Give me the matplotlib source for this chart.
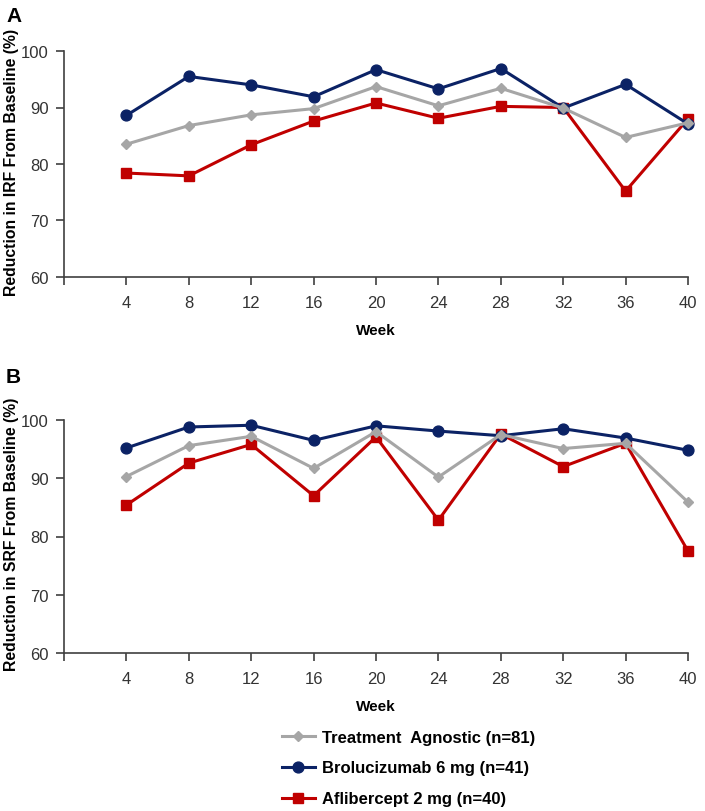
import matplotlib
matplotlib.use("Agg")
import matplotlib.pyplot as plt
from matplotlib.lines import Line2D

plt.rcParams['font.family'] = ['Liberation Sans', 'DejaVu Sans']

weeks = [4, 8, 12, 16, 20, 24, 28, 32, 36, 40]

irf_agnostic = [83.5, 86.8, 88.7, 89.8, 93.7, 90.3, 93.4, 89.9, 84.7, 87.3]
irf_brolucizumab = [88.6, 95.5, 94.0, 91.9, 96.7, 93.3, 96.9, 89.9, 94.1, 87.1]
irf_aflibercept = [78.4, 77.9, 83.4, 87.6, 90.8, 88.1, 90.2, 90.0, 75.2, 88.0]

srf_agnostic = [90.3, 95.6, 97.2, 91.7, 98.0, 90.2, 97.5, 95.1, 96.0, 85.9]
srf_brolucizumab = [95.2, 98.8, 99.1, 96.5, 99.0, 98.1, 97.3, 98.5, 96.9, 94.8]
srf_aflibercept = [85.4, 92.6, 95.8, 87.0, 97.1, 82.8, 97.6, 92.0, 96.0, 77.5]

labels = ["Treatment  Agnostic (n=81)", "Brolucizumab 6 mg (n=41)", "Aflibercept 2 mg (n=40)"]
yticks = [60, 70, 80, 90, 100]

GRAY = "#A6A6A6"
NAVY = "#0B2265"
RED = "#C00000"
styles = [
    dict(color=GRAY, marker="D", markersize=5.5, lw=2.2, zorder=4),
    dict(color=NAVY, marker="o", markersize=7.8, lw=2.2, zorder=3),
    dict(color=RED, marker="s", markersize=7.5, lw=2.2, zorder=2),
]

fig = plt.figure(figsize=(7.05, 8.12), dpi=100)
axA = fig.add_axes([64/705, 1-278/812, 624/705, 226/812])
axB = fig.add_axes([64/705, 1-654/812, 624/705, 233/812])

def draw(ax, series, ylabel):
    for vals, st in zip(series, styles):
        ax.plot(weeks, vals, clip_on=False, **st)
    ax.set_xlim(0, 40)
    ax.set_ylim(60, 100)
    ax.set_yticks(yticks)
    ax.set_xticks([0] + weeks)
    ax.set_xticklabels([""] + [str(w) for w in weeks])
    for s in ["top", "right"]:
        ax.spines[s].set_visible(False)
    for s in ["left", "bottom"]:
        ax.spines[s].set_color("#404040")
        ax.spines[s].set_linewidth(1.2)
    ax.tick_params(axis="both", direction="out", length=6, width=1.2, color="#404040",
                   labelsize=12, labelcolor="#333333", pad=7)
    ax.tick_params(axis="y", pad=5)
    ax.set_ylabel(ylabel, fontsize=11.3, fontweight="bold")
    ax.set_xlabel("Week", fontsize=11, fontweight="bold", labelpad=9)
    ax.yaxis.set_label_coords(-0.072, 0.513)

draw(axA, [irf_agnostic, irf_brolucizumab, irf_aflibercept], "Reduction in IRF From Baseline (%)")
draw(axB, [srf_agnostic, srf_brolucizumab, srf_aflibercept], "Reduction in SRF From Baseline (%)")

fig.text(6/705, 1-16/812, "A", fontsize=15, fontweight="bold", va="center", ha="left")
fig.text(6/705, 1-378/812, "B", fontsize=15, fontweight="bold", va="center", ha="left")

handles = [Line2D([0], [0], **st) for st in styles]
fig.legend(handles, labels, loc="upper left", bbox_to_anchor=(275/705, 1-724/812),
           frameon=False, prop=dict(weight="bold", size=12),
           handlelength=2.0, handletextpad=0.45, labelspacing=0.95, borderaxespad=0)

fig.savefig("out.png", dpi=100)
